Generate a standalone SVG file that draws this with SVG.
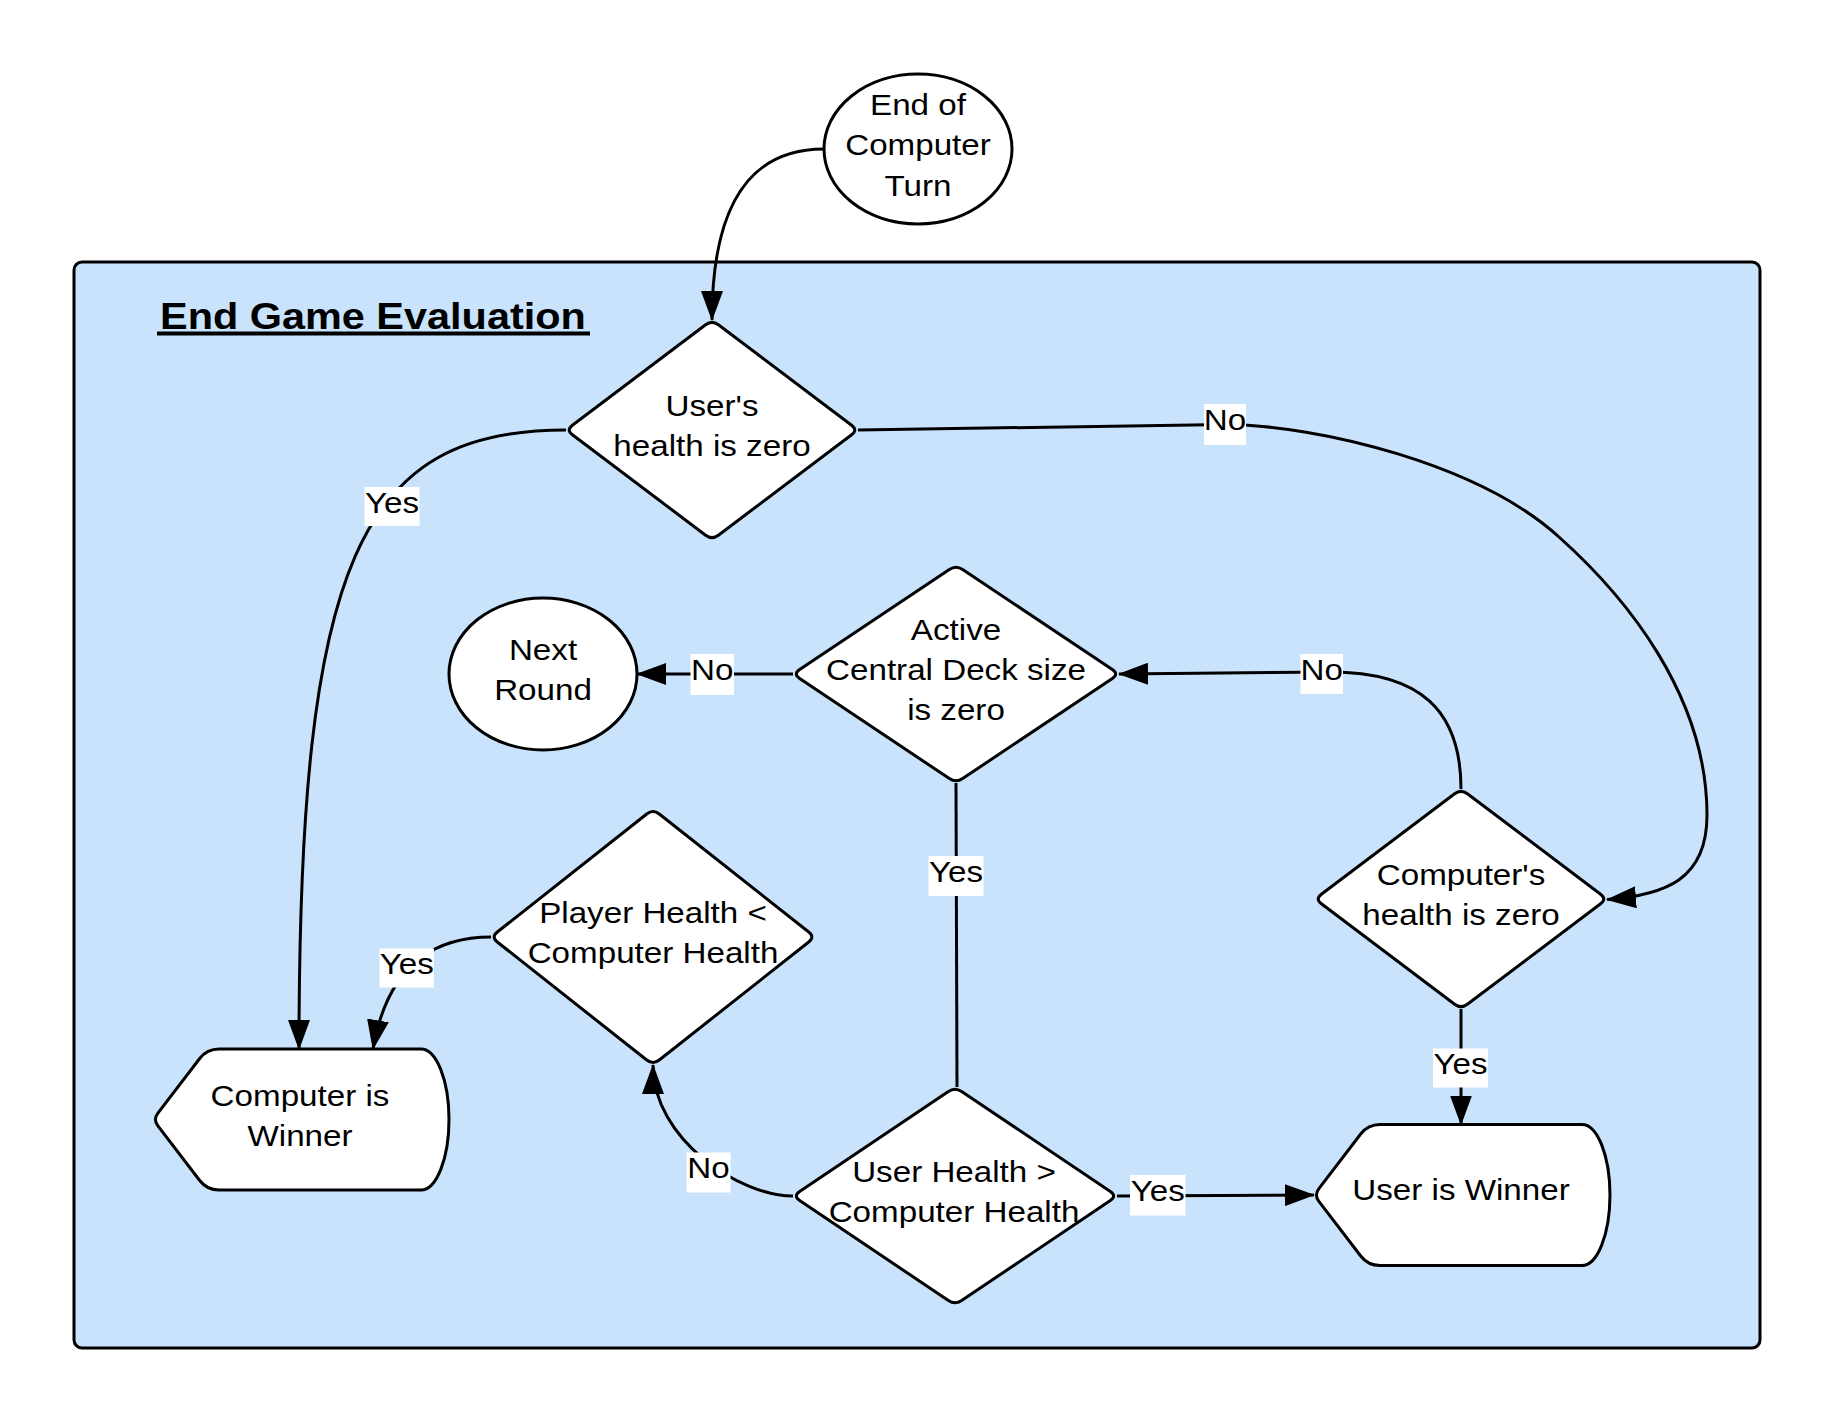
<svg xmlns="http://www.w3.org/2000/svg" width="1838" height="1425" viewBox="0 0 1838 1425">
  <style>
    .t { font-family: "Liberation Sans", Arial, sans-serif; font-size: 29.5px; fill: #000; text-anchor: middle; }
    .title { font-family: "Liberation Sans", Arial, sans-serif; font-size: 37px; font-weight: bold; fill: #000; }
    .shape { fill: #fff; stroke: #000; stroke-width: 3; stroke-linejoin: round; }
    .conn { fill: none; stroke: #000; stroke-width: 3; }
    .arrow { marker-end: url(#ah); }
    .lbl { fill: #fff; }
  </style>
  <defs>
    <marker id="ah" viewBox="0 0 30 22" markerWidth="30" markerHeight="22" refX="29" refY="11" orient="auto" markerUnits="userSpaceOnUse">
      <path d="M0,0 L30,11 L0,22 Z" fill="#000"/>
    </marker>
  </defs>
  <rect width="1838" height="1425" fill="#fff"/>

  <g id="container">
    <rect x="74" y="262" width="1686" height="1086" rx="8" ry="8" fill="#c9e3fc" stroke="#000" stroke-width="3"/>
    <text class="title" transform="translate(160 0) scale(1.12 1)" x="0" y="329.5">End Game Evaluation</text>
    <line x1="157" y1="333.5" x2="590" y2="333.5" stroke="#000" stroke-width="4"/>
  </g>

  <g id="connectors">
    <path class="conn arrow" d="M 824,149 C 760,149 712,190 712,320"/>
    <path class="conn arrow" d="M 566,430 C 360,430 299,560 299,1049"/>
    <path class="conn arrow" d="M 858,430 L 1225,424.5 C 1320,425 1480,465 1559,537 C 1625,596 1707,695 1707,815 C 1707,880 1665,895 1607,899.6"/>
    <path class="conn arrow" d="M 1461,789 C 1461,710 1420,672 1330,672 L 1119,674"/>
    <path class="conn arrow" d="M 793,674 L 637,674"/>
    <path class="conn" d="M 956,783 L 957,1087"/>
    <path class="conn arrow" d="M 1461,1009 L 1461,1124.5"/>
    <path class="conn arrow" d="M 1117,1196 L 1314,1195"/>
    <path class="conn arrow" d="M 793,1196 C 740,1196 653,1140 653,1065"/>
    <path class="conn arrow" d="M 491,937 C 420,937 385,980 373,1049"/>

    <g id="labels">
      <rect class="lbl" x="364.5" y="487" width="55" height="39"/>
      <text class="t" transform="translate(392 0) scale(1.125 1)" x="0" y="513">Yes</text>
      <rect class="lbl" x="1204" y="404" width="42" height="41"/>
      <text class="t" transform="translate(1225 0) scale(1.125 1)" x="0" y="430">No</text>
      <rect class="lbl" x="1300.5" y="654" width="42.5" height="40"/>
      <text class="t" transform="translate(1321.7 0) scale(1.125 1)" x="0" y="680">No</text>
      <rect class="lbl" x="690.5" y="654" width="43.5" height="41"/>
      <text class="t" transform="translate(712.3 0) scale(1.125 1)" x="0" y="680">No</text>
      <rect class="lbl" x="928.5" y="856" width="55" height="40"/>
      <text class="t" transform="translate(956 0) scale(1.125 1)" x="0" y="882">Yes</text>
      <rect class="lbl" x="379.5" y="948.5" width="54.5" height="39"/>
      <text class="t" transform="translate(406.7 0) scale(1.125 1)" x="0" y="974.5">Yes</text>
      <rect class="lbl" x="686.5" y="1152.5" width="44" height="40"/>
      <text class="t" transform="translate(708.5 0) scale(1.125 1)" x="0" y="1178.5">No</text>
      <rect class="lbl" x="1130" y="1175" width="55.5" height="40.5"/>
      <text class="t" transform="translate(1157.7 0) scale(1.125 1)" x="0" y="1201">Yes</text>
      <rect class="lbl" x="1433" y="1048.5" width="55" height="39"/>
      <text class="t" transform="translate(1460.5 0) scale(1.125 1)" x="0" y="1074.5">Yes</text>
    </g>
  </g>

  <g id="end-of-computer-turn">
    <ellipse class="shape" cx="918" cy="149" rx="94" ry="75"/>
    <text class="t" transform="translate(918 0) scale(1.125 1)"><tspan x="0" y="115">End of</tspan><tspan x="0" y="155.5">Computer</tspan><tspan x="0" y="196">Turn</tspan></text>
  </g>

  <g id="users-health-zero">
    <path class="shape" d="M 705.6,324.8 Q 712,320 718.4,324.8 L 851.6,425.2 Q 858,430 851.6,434.8 L 718.4,535.2 Q 712,540 705.6,535.2 L 572.4,434.8 Q 566,430 572.4,425.2 Z"/>
    <text class="t" transform="translate(712 0) scale(1.125 1)"><tspan x="0" y="416">User's</tspan><tspan x="0" y="456">health is zero</tspan></text>
  </g>

  <g id="active-deck-zero">
    <path class="shape" d="M 949.35,569.45 Q 956,565 962.65,569.45 L 1112.35,669.55 Q 1119,674 1112.35,678.45 L 962.65,778.55 Q 956,783 949.35,778.55 L 799.65,678.45 Q 793,674 799.65,669.55 Z"/>
    <text class="t" transform="translate(956 0) scale(1.125 1)"><tspan x="0" y="640">Active</tspan><tspan x="0" y="680">Central Deck size</tspan><tspan x="0" y="720">is zero</tspan></text>
  </g>

  <g id="next-round">
    <ellipse class="shape" cx="543" cy="674" rx="94" ry="76"/>
    <text class="t" transform="translate(543 0) scale(1.125 1)"><tspan x="0" y="660">Next</tspan><tspan x="0" y="700">Round</tspan></text>
  </g>

  <g id="player-health-less">
    <path class="shape" d="M 646.72,813.96 Q 653,809 659.28,813.96 L 808.72,932.04 Q 815,937 808.72,941.96 L 659.28,1060.04 Q 653,1065 646.72,1060.04 L 497.28,941.96 Q 491,937 497.28,932.04 Z"/>
    <text class="t" transform="translate(653 0) scale(1.125 1)"><tspan x="0" y="923">Player Health &lt;</tspan><tspan x="0" y="963">Computer Health</tspan></text>
  </g>

  <g id="computers-health-zero">
    <path class="shape" d="M 1454.61,793.81 Q 1461,789 1467.39,793.81 L 1600.61,894.19 Q 1607,899 1600.61,903.81 L 1467.39,1004.19 Q 1461,1009 1454.61,1004.19 L 1321.39,903.81 Q 1315,899 1321.39,894.19 Z"/>
    <text class="t" transform="translate(1461 0) scale(1.125 1)"><tspan x="0" y="885">Computer's</tspan><tspan x="0" y="925">health is zero</tspan></text>
  </g>

  <g id="user-health-greater">
    <path class="shape" d="M 948.36,1091.46 Q 955,1087 961.64,1091.46 L 1110.36,1191.54 Q 1117,1196 1110.36,1200.46 L 961.64,1300.54 Q 955,1305 948.36,1300.54 L 799.64,1200.46 Q 793,1196 799.64,1191.54 Z"/>
    <text class="t" transform="translate(954 0) scale(1.125 1)"><tspan x="0" y="1182">User Health &gt;</tspan><tspan x="0" y="1222">Computer Health</tspan></text>
  </g>

  <g id="computer-is-winner">
    <path class="shape" d="M 219,1049 L 421,1049 A 28 70.5 0 0 1 421,1190 L 219,1190 Q 207,1190 199.7,1180.5 L 157.9,1125.9 Q 153,1119.5 157.9,1113.1 L 199.7,1058.5 Q 207,1049 219,1049 Z"/>
    <text class="t" transform="translate(300 0) scale(1.125 1)"><tspan x="0" y="1106">Computer is</tspan><tspan x="0" y="1146">Winner</tspan></text>
  </g>

  <g id="user-is-winner">
    <path class="shape" d="M 1380,1124.5 L 1582,1124.5 A 28 70.5 0 0 1 1582,1265.5 L 1380,1265.5 Q 1368,1265.5 1360.7,1256 L 1318.9,1201.4 Q 1314,1195 1318.9,1188.6 L 1360.7,1134 Q 1368,1124.5 1380,1124.5 Z"/>
    <text class="t" transform="translate(1461 0) scale(1.125 1)" x="0" y="1199.5">User is Winner</text>
  </g>
</svg>
